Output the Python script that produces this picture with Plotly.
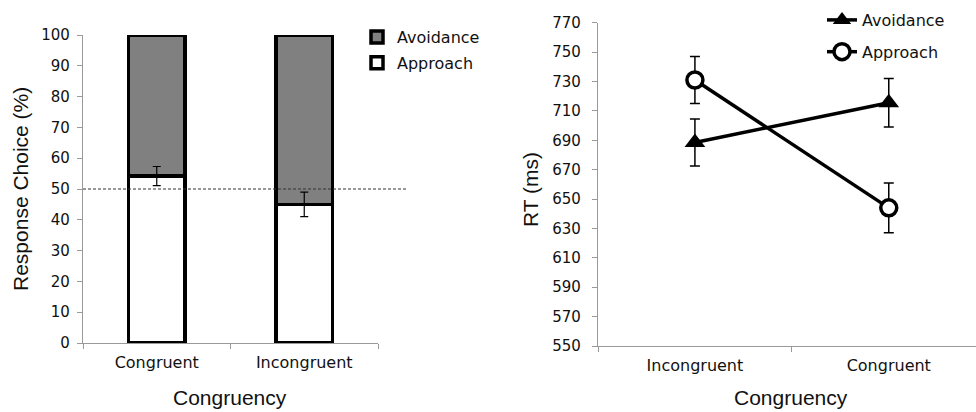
import plotly.graph_objects as go

# ---- data ----
left_categories = ["Congruent", "Incongruent"]
approach_pct = [54.2, 45.0]
avoidance_pct = [100 - v for v in approach_pct]
approach_pct_err = [3.1, 4.0]

right_categories = ["Incongruent", "Congruent"]
avoidance_rt = [688.5, 715.5]
avoidance_rt_err = [16, 16.5]
approach_rt = [731, 644]
approach_rt_err = [16, 17]

left_yticks = list(range(0, 101, 10))
right_yticks = list(range(550, 771, 20))

W, H = 976, 412
tick_font = dict(family="DejaVu Sans", size=15, color="#111")
xtick_font = dict(family="DejaVu Sans", size=16, color="#111")
title_font = dict(family="Liberation Sans, Arial", size=21, color="#111")
legend_font = dict(family="DejaVu Sans", size=16, color="#111")
axis_grey = "#9a9a9a"

fig = go.Figure()

# Left: stacked bars
fig.add_trace(go.Bar(
    x=left_categories, y=approach_pct, name="Approach",
    marker=dict(color="white", line=dict(color="black", width=3.5)),
    xaxis="x", yaxis="y", legend="legend", legendgroup="ap", legendrank=2,
))
fig.add_trace(go.Bar(
    x=left_categories, y=avoidance_pct, name="Avoidance",
    marker=dict(color="#808080", line=dict(color="black", width=3.5)),
    xaxis="x", yaxis="y", legend="legend", legendgroup="av", legendrank=1,
))
fig.add_trace(go.Scatter(
    x=left_categories, y=approach_pct, mode="markers",
    marker=dict(size=1, opacity=0),
    error_y=dict(type="data", array=approach_pct_err, color="black", thickness=1.2, width=4),
    xaxis="x", yaxis="y", showlegend=False, hoverinfo="skip",
))

# Right: line chart
fig.add_trace(go.Scatter(
    x=right_categories, y=avoidance_rt, name="Avoidance", mode="lines+markers",
    line=dict(color="black", width=3.5),
    marker=dict(symbol="triangle-up", size=18, color="black"),
    error_y=dict(type="data", array=avoidance_rt_err, color="black", thickness=1.5, width=5),
    xaxis="x2", yaxis="y2", legend="legend2", legendgroup="rav", legendrank=1,
))
fig.add_trace(go.Scatter(
    x=right_categories, y=approach_rt, name="Approach", mode="lines+markers",
    line=dict(color="black", width=3.5),
    marker=dict(symbol="circle", size=16, color="white", line=dict(color="black", width=3.5)),
    error_y=dict(type="data", array=approach_rt_err, color="black", thickness=1.5, width=5),
    xaxis="x2", yaxis="y2", legend="legend2", legendgroup="rap", legendrank=2,
))

axis_common = dict(showgrid=False, zeroline=False, showline=True, linecolor=axis_grey,
                   linewidth=1.2, ticks="outside", tickcolor=axis_grey, ticklen=5,
                   automargin=False)

fig.update_layout(
    template="none",
    width=W, height=H,
    margin=dict(l=0, r=0, t=0, b=0, autoexpand=False),
    paper_bgcolor="white", plot_bgcolor="white",
    barmode="stack", bargap=0.62,
    showlegend=True,
    xaxis=dict(domain=[83 / W, 378 / W], type="category", categoryorder="array",
               categoryarray=left_categories, range=[-0.5, 1.5], tickson="boundaries",
               ticklabelstandoff=5, anchor="y", tickfont=xtick_font, **axis_common),
    yaxis=dict(domain=[1 - 343 / H, 1 - 35 / H], range=[0, 100], tickvals=left_yticks,
               ticklabelstandoff=4, anchor="x", tickfont=tick_font, **axis_common),
    xaxis2=dict(domain=[598 / W, 1.0], type="category", categoryorder="array",
                categoryarray=right_categories, range=[-0.5, 1.45], tickson="boundaries",
                ticklabelstandoff=5, anchor="y2", tickfont=xtick_font, **axis_common),
    yaxis2=dict(domain=[1 - 346 / H, 1 - 22.7 / H], range=[550, 770], tickvals=right_yticks,
                ticklabelstandoff=8, anchor="x2", tickfont=tick_font, **axis_common),
    legend=dict(x=357 / W, y=1 - 20 / H, xanchor="left", yanchor="top",
                font=legend_font, traceorder="grouped", tracegroupgap=2,
                bgcolor="rgba(0,0,0,0)", borderwidth=0),
    legend2=dict(x=822 / W, y=1 - 3 / H, xanchor="left", yanchor="top",
                 font=legend_font, traceorder="grouped", tracegroupgap=8,
                 bgcolor="rgba(0,0,0,0)", borderwidth=0),
    shapes=[dict(type="line", xref="paper", yref="y", x0=83 / W, x1=408 / W, y0=50, y1=50,
                 line=dict(color="#333", width=1.2, dash="3px,2px"))],
    annotations=[
        dict(text="Response Choice (%)", xref="paper", yref="paper", x=20 / W, y=1 - 189 / H,
             textangle=-90, showarrow=False, font=title_font, xanchor="center", yanchor="middle"),
        dict(text="Congruency", xref="paper", yref="paper", x=230 / W, y=1 - 397 / H,
             showarrow=False, font=title_font, xanchor="center", yanchor="middle"),
        dict(text="RT (ms)", xref="paper", yref="paper", x=530 / W, y=1 - 190 / H,
             textangle=-90, showarrow=False, font=title_font, xanchor="center", yanchor="middle"),
        dict(text="Congruency", xref="paper", yref="paper", x=791 / W, y=1 - 397 / H,
             showarrow=False, font=title_font, xanchor="center", yanchor="middle"),
    ],
)

fig.write_html("out.html", config={"displayModeBar": False},
               post_script="document.body.style.margin='0';document.body.style.overflow='hidden';")
